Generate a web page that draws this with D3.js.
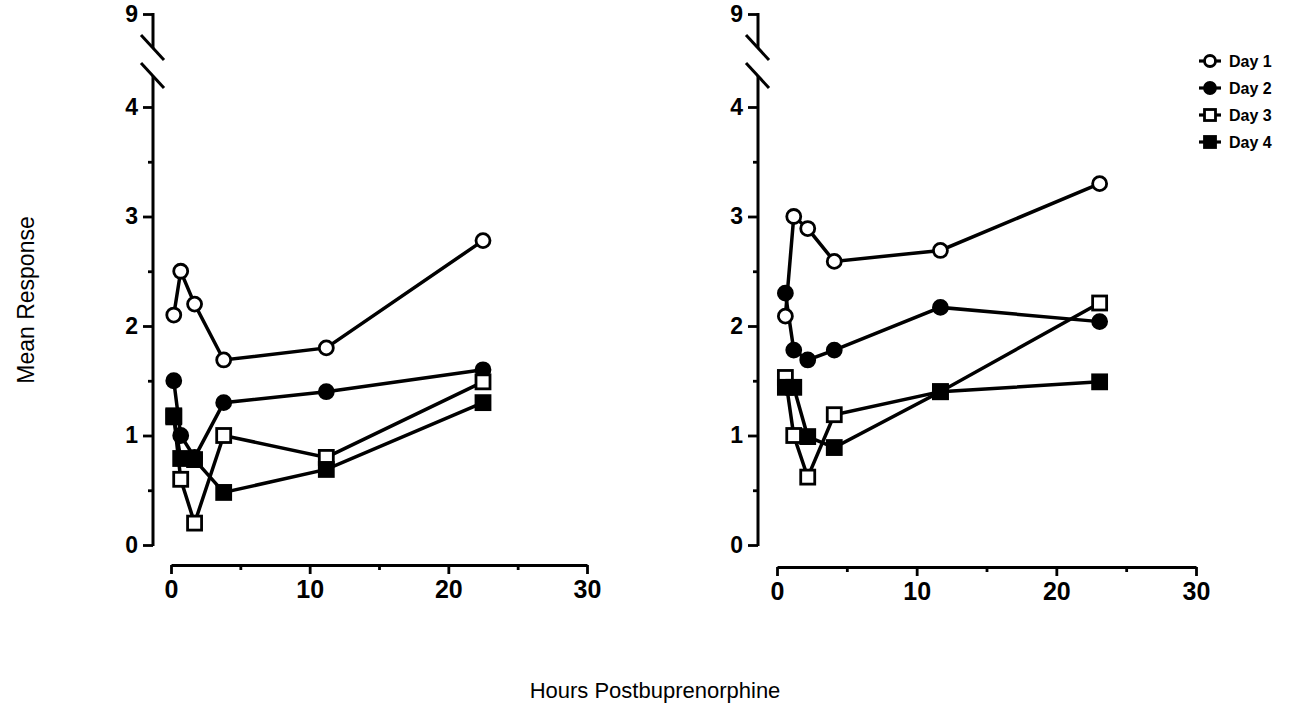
<!DOCTYPE html>
<html>
<head>
<meta charset="utf-8">
<script src="https://cdn.jsdelivr.net/npm/d3@7"></script>
<style>
  body { margin: 0; background: #fff; }
  svg text { font-family: "Liberation Sans", Arial, Helvetica, sans-serif; fill: #000; }
  .tick text { font-weight: bold; }
</style>
</head>
<body>
<div class="chart"></div>
<script>
const width = 1310;
const height = 727;

// series names + markers
const days = ['Day 1', 'Day 2', 'Day 3', 'Day 4'];
const markers = ['openCircle', 'filledCircle', 'openSquare', 'filledSquare'];

// left panel (hours, mean response)
const leftHours = [0.2, 0.7, 1.7, 3.8, 11.2, 22.5];
const leftDay1 = [2.1, 2.5, 2.2, 1.69, 1.8, 2.78];
const leftDay2 = [1.5, 1.0, 0.8, 1.3, 1.4, 1.6];
const leftDay3 = [1.18, 0.6, 0.2, 1.0, 0.8, 1.49];
const leftDay4 = [1.17, 0.79, 0.78, 0.48, 0.69, 1.3];

// right panel
const rightHours = [0.6, 1.2, 2.2, 4.1, 11.7, 23.1];
const rightDay1 = [2.09, 3.0, 2.89, 2.59, 2.69, 3.3];
const rightDay2 = [2.3, 1.78, 1.69, 1.78, 2.17, 2.04];
const rightDay3 = [1.53, 1.0, 0.62, 1.19, 1.4, 2.21];
const rightDay4 = [1.44, 1.44, 0.99, 0.89, 1.4, 1.49];

// ticks
const yMajor = [0, 1, 2, 3, 4];
const yMinor = [0.5, 1.5, 2.5, 3.5];
const yBreakTop = 9;
const xMajor = [0, 10, 20, 30];
const xMinor = [5, 15, 25];

const xAxisLabel = 'Hours Postbuprenorphine';
const yAxisLabel = 'Mean Response';

const panels = [
  {hours: leftHours, series: [leftDay1, leftDay2, leftDay3, leftDay4], axisX: 153, xRange: [171, 587], axisY: 565},
  {hours: rightHours, series: [rightDay1, rightDay2, rightDay3, rightDay4], axisX: 758, xRange: [777, 1196], axisY: 567}
];

const svg = d3.select('.chart')
  .append('svg')
  .attr('width', width)
  .attr('height', height);

// draws one marker shape centred on 0,0
const drawMarker = (g, type, size) => {
  if (type.endsWith('Circle')) {
    g.append('circle')
      .attr('r', size)
      .attr('fill', type === 'openCircle' ? '#fff' : '#000')
      .attr('stroke', '#000')
      .attr('stroke-width', 2.8);
  } else {
    g.append('rect')
      .attr('x', -size).attr('y', -size)
      .attr('width', size * 2).attr('height', size * 2)
      .attr('fill', type === 'openSquare' ? '#fff' : '#000')
      .attr('stroke', '#000')
      .attr('stroke-width', 2.8);
  }
};

panels.forEach(p => {
  const xScale = d3.scaleLinear().domain([0, 30]).range(p.xRange);
  // polylinear so the 9 sits above the axis break
  const yScale = d3.scaleLinear().domain([0, 4, 9]).range([545, 107, 14]);

  const g = svg.append('g');

  // y axis ticks, majors with labels, minors without
  const yAxisMajor = d3.axisLeft(yScale).tickValues(yMajor.concat([yBreakTop]))
    .tickSize(10).tickPadding(5).tickFormat(d3.format('d'));
  const yAxisMinor = d3.axisLeft(yScale).tickValues(yMinor).tickSize(5).tickFormat('');

  const ya = g.append('g').attr('transform', `translate(${p.axisX},0)`).call(yAxisMajor);
  g.append('g').attr('transform', `translate(${p.axisX},0)`).call(yAxisMinor);
  g.selectAll('.domain').remove();
  ya.selectAll('.tick text').style('font-size', '23px');

  // axis line with break
  const ax = p.axisX;
  const y4 = yScale(4), y9 = yScale(9);
  g.append('line').attr('x1', ax).attr('x2', ax).attr('y1', yScale(0) + 1).attr('y2', y4 - 31)
    .attr('stroke', '#000').attr('stroke-width', 3);
  g.append('line').attr('x1', ax).attr('x2', ax).attr('y1', y9 - 1).attr('y2', y9 + 34)
    .attr('stroke', '#000').attr('stroke-width', 3);
  [y4 - 31, y9 + 34].forEach(cy => {
    g.append('line')
      .attr('x1', ax - 12).attr('y1', cy - 13)
      .attr('x2', ax + 11).attr('y2', cy + 12)
      .attr('stroke', '#000').attr('stroke-width', 3);
  });

  // x axis
  const xAxisMajor = d3.axisBottom(xScale).tickValues(xMajor).tickSize(9).tickSizeOuter(0).tickPadding(6);
  const xAxisMinor = d3.axisBottom(xScale).tickValues(xMinor).tickSize(5).tickSizeOuter(0).tickFormat('');
  const xa = g.append('g').attr('transform', `translate(0,${p.axisY})`).call(xAxisMajor);
  const xm = g.append('g').attr('transform', `translate(0,${p.axisY})`).call(xAxisMinor);
  xm.select('.domain').remove();
  xa.select('.domain').attr('stroke-width', 3);
  xa.selectAll('.tick text').style('font-size', '25px');
  g.selectAll('.tick line').attr('stroke-width', 2.8);

  const line = d3.line()
    .x((d, i) => xScale(p.hours[i]))
    .y(d => yScale(d));

  // lines first, then markers on top
  p.series.forEach(s => {
    g.append('path')
      .datum(s)
      .attr('d', line)
      .attr('fill', 'none')
      .attr('stroke', '#000')
      .attr('stroke-width', 3.5);
  });

  p.series.forEach((s, k) => {
    g.selectAll(null)
      .data(s)
      .enter().append('g')
      .attr('transform', (d, i) => `translate(${xScale(p.hours[i])},${yScale(d)})`)
      .each(function() { drawMarker(d3.select(this), markers[k], 7); });
  });
});

// legend
const legend = svg.append('g').attr('id', 'legend');
const legendItems = legend.selectAll('g')
  .data(days)
  .enter().append('g')
  .attr('transform', (d, i) => `translate(1210,${61 + i * 27})`);

legendItems.append('line')
  .attr('x1', -11).attr('x2', 11)
  .attr('stroke', '#000').attr('stroke-width', 3.2);
legendItems.each(function(d, i) { drawMarker(d3.select(this), markers[i], 5.5); });
legendItems.append('text')
  .attr('x', 19)
  .attr('dy', '0.35em')
  .style('font-size', '16px')
  .style('font-weight', 'bold')
  .text(d => d);

// axis titles
svg.append('text')
  .attr('transform', `translate(26,300) rotate(-90)`)
  .attr('text-anchor', 'middle')
  .attr('dy', '0.35em')
  .style('font-size', '23px')
  .text(yAxisLabel);

svg.append('text')
  .attr('x', 655)
  .attr('y', 690)
  .attr('text-anchor', 'middle')
  .attr('dy', '0.35em')
  .style('font-size', '22px')
  .text(xAxisLabel);
</script>
</body>
</html>
